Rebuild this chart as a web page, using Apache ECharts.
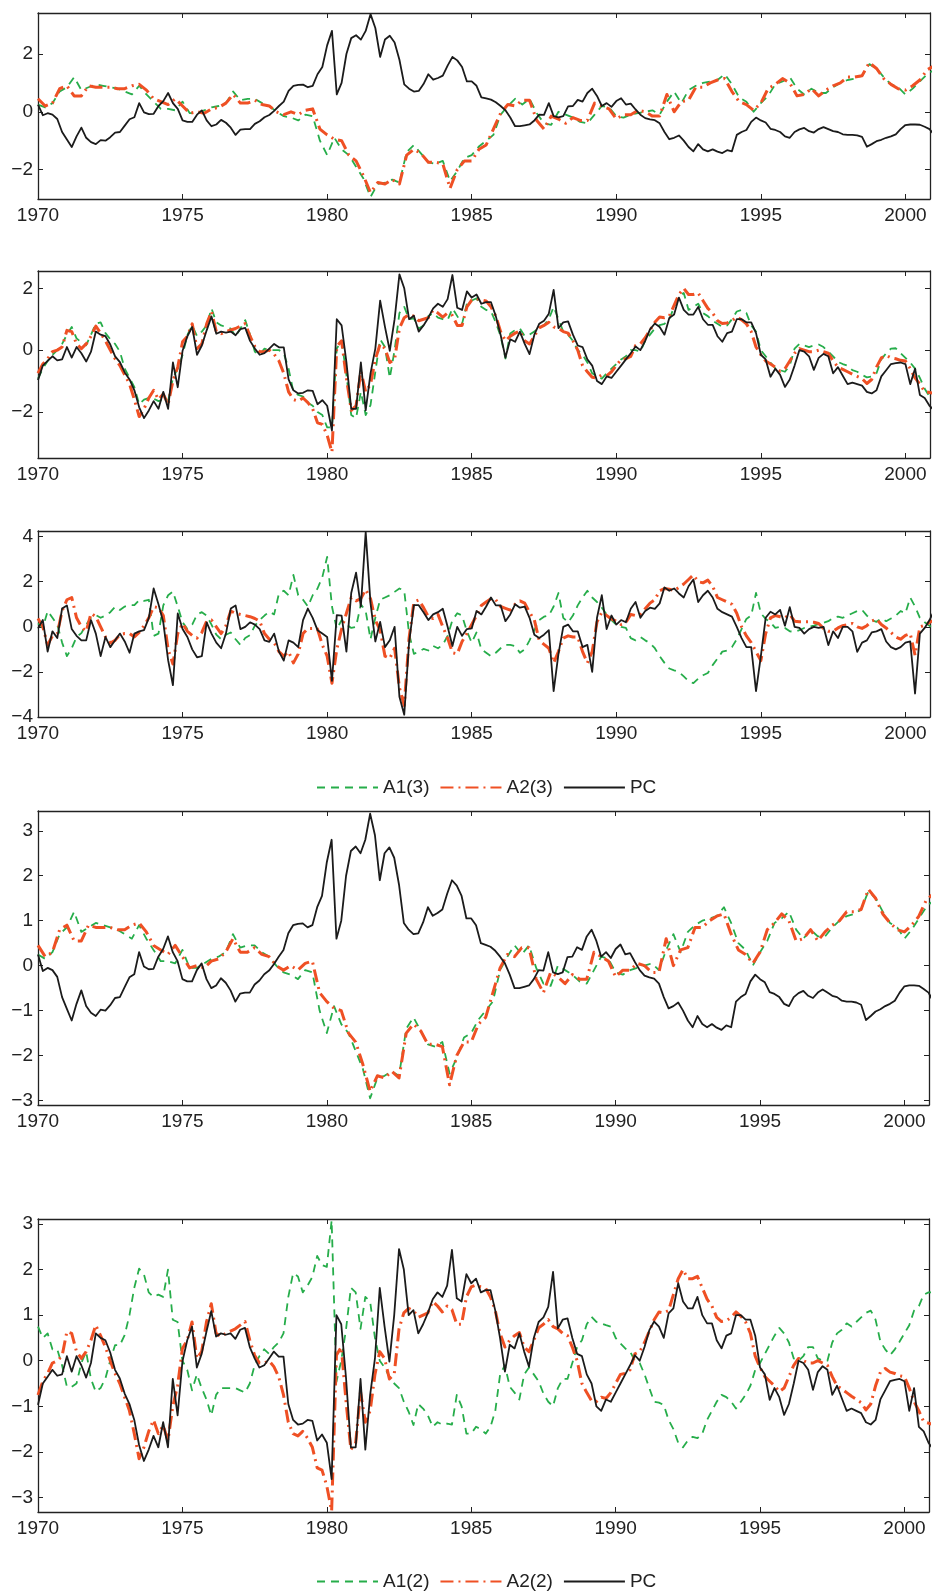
<!DOCTYPE html>
<html><head><meta charset="utf-8">
<script src="https://cdn.jsdelivr.net/npm/echarts@6/dist/echarts.min.js"></script>
<style>html,body{margin:0;padding:0;background:#fff}#c{width:932px;height:1591px}</style>
</head><body><div id="c"></div>
<script>
// ---------- axis ticks ----------
const START_YEAR = 1970;
const STEP_BI = 1/6;   // bimonthly samples
const STEP_Q = 0.25;   // quarterly samples
const xTicks = [1970, 1975, 1980, 1985, 1990, 1995, 2000];
const yTicksP1 = [-2, 0, 2];
const yTicksP2 = [-2, 0, 2];
const yTicksP3 = [-4, -2, 0, 2, 4];
const yTicksP4 = [-3, -2, -1, 0, 1, 2, 3];
const yTicksP5 = [-3, -2, -1, 0, 1, 2, 3];

// ---------- panels 1 & 4 (quarterly A1/A2, bimonthly PC) ----------
const a1Level = [0.25,0.15,0.3,0.7, 0.85,1.2,0.75,0.85, 0.95,0.9,0.85,0.8, 0.7,0.6,0.9,0.6,
 0.35,0.1,0.1,0.05, 0.35,-0.05,-0.05,0.05, 0.15,0.2,0.3,0.7, 0.4,0.45,0.45,0.3,
 0.2,0.0,-0.15,-0.2, -0.3,-0.1,-0.15,-1.0, -1.5,-0.9,-1.3,-1.5, -1.9,-2.3,-2.95,-2.5,
 -2.45,-2.35,-2.45,-1.4, -1.15,-1.45,-1.75,-1.8, -1.7,-2.4,-2.05,-1.6, -1.5,-1.2,-1.0,-0.8,
 -0.1,0.2,0.45,0.25, 0.45,-0.05,-0.4,-0.45, 0.0,-0.1,-0.2,-0.35, -0.4,-0.1,0.2,0.15,
 -0.15,-0.2,-0.1,-0.05, 0.0,0.05,-0.1,0.35, 0.7,0.3,0.75,0.9, 1.0,1.05,1.1,1.3,
 0.95,0.5,0.35,0.0, 0.3,0.55,0.95,1.05, 1.2,0.8,0.6,0.8, 0.65,0.65,0.85,1.0,
 1.1,1.15,1.25,1.65, 1.5,1.2,0.95,0.85, 0.6,0.8,1.05,1.3, 1.45];
const a2Level = [0.45,0.2,0.3,0.8, 0.9,0.55,0.55,0.9, 0.85,0.85,0.85,0.8, 0.8,0.9,0.95,0.75,
 0.45,0.35,0.25,0.45, 0.2,-0.05,0.0,-0.05, 0.1,0.15,0.3,0.6, 0.3,0.3,0.4,0.25,
 0.2,0.0,-0.1,0.0, -0.1,0.05,0.1,-0.6, -0.8,-0.95,-1.0,-1.5, -1.7,-2.2,-2.8,-2.45,
 -2.5,-2.35,-2.5,-1.5, -1.3,-1.45,-1.75,-1.75, -1.8,-2.65,-2.0,-1.7, -1.7,-1.3,-1.15,-0.6,
 -0.05,0.25,0.2,0.4, 0.4,-0.3,-0.6,-0.15, -0.25,-0.4,-0.2,-0.3, -0.3,0.3,0.2,0.1,
 -0.25,-0.1,-0.1,0.05, 0.0,-0.15,-0.15,0.6, 0.0,0.35,0.4,0.85, 0.85,1.0,1.1,1.15,
 0.7,0.35,0.25,0.05, 0.3,0.8,0.95,1.15, 1.0,0.55,0.6,0.8, 0.55,0.75,0.9,1.0,
 1.2,1.2,1.25,1.7, 1.5,1.15,0.95,0.8, 0.75,0.9,1.1,1.45, 1.6];
const pcLevel = [0.25,-0.12,-0.05,-0.1,-0.25,-0.7,-0.96,-1.22,-0.85,-0.55,-0.9,-1.05,
 -1.12,-0.98,-1.0,-0.88,-0.72,-0.7,-0.48,-0.26,-0.19,0.3,-0.02,-0.08,
 -0.07,0.2,0.37,0.65,0.3,0.1,-0.3,-0.35,-0.35,-0.1,0.05,-0.3,
 -0.5,-0.44,-0.28,-0.38,-0.55,-0.8,-0.62,-0.6,-0.6,-0.42,-0.33,-0.19,
 -0.11,0.03,0.2,0.35,0.72,0.9,0.93,0.94,0.85,0.9,1.3,1.55,
 2.3,2.8,0.6,1.0,2.0,2.55,2.65,2.5,2.8,3.38,2.9,1.9,
 2.5,2.63,2.4,1.8,0.95,0.8,0.7,0.72,0.96,1.3,1.11,1.17,
 1.25,1.6,1.9,1.78,1.55,1.05,1.05,0.9,0.5,0.46,0.42,0.33,
 0.2,0.05,-0.2,-0.5,-0.5,-0.47,-0.44,-0.3,-0.1,-0.11,0.3,-0.15,
 -0.19,-0.15,0.19,0.2,0.41,0.35,0.65,0.8,0.55,0.2,0.3,0.17,
 0.37,0.47,0.25,0.28,0.08,-0.1,-0.22,-0.26,-0.29,-0.4,-0.7,-0.95,
 -0.9,-0.82,-1.0,-1.22,-1.37,-1.12,-1.3,-1.37,-1.3,-1.38,-1.43,-1.33,
 -1.37,-0.8,-0.7,-0.63,-0.35,-0.2,-0.3,-0.37,-0.59,-0.63,-0.7,-0.85,
 -0.9,-0.7,-0.61,-0.56,-0.67,-0.72,-0.6,-0.53,-0.6,-0.67,-0.7,-0.78,
 -0.8,-0.8,-0.82,-0.87,-1.21,-1.12,-1.02,-0.97,-0.9,-0.85,-0.78,-0.6,
 -0.46,-0.44,-0.44,-0.45,-0.52,-0.6,-0.8];

// ---------- panels 2 & 5 (bimonthly) ----------
const pcSlope = [-0.97,-0.5,-0.35,-0.2,-0.33,-0.3,0.1,-0.24,0.1,-0.1,-0.37,-0.05,
 0.6,0.5,0.45,0.18,-0.2,-0.39,-0.72,-0.95,-1.3,-1.85,-2.2,-1.95,
 -1.65,-1.9,-1.35,-1.9,-0.4,-1.2,-0.02,0.45,0.75,-0.15,0.15,0.64,
 1.09,0.53,0.6,0.57,0.6,0.48,0.68,0.72,0.3,0.05,-0.15,-0.1,
 0.05,0.2,0.09,0.09,-0.95,-1.3,-1.4,-1.38,-1.3,-1.32,-1.75,-1.62,
 -1.8,-2.6,1.0,0.8,-0.39,-1.9,-1.9,-0.4,-1.95,-0.75,0.05,1.6,
 0.75,-0.02,1.0,2.45,2.0,1.0,1.11,0.6,0.8,1.05,1.35,1.5,
 1.4,1.65,2.43,1.37,1.3,1.9,1.7,1.8,1.5,1.55,1.55,1.1,
 0.49,-0.24,0.35,0.27,0.6,0.2,-0.13,0.5,0.85,0.95,1.18,1.95,
 0.71,0.9,0.93,0.5,0.15,0.1,-0.3,-0.5,-1.0,-1.1,-0.85,-0.9,
 -0.7,-0.5,-0.3,-0.1,0.12,0.0,0.3,0.67,0.86,0.75,0.5,1.04,
 1.15,1.7,1.3,1.15,1.15,1.4,1.0,0.82,0.82,0.45,0.27,0.55,
 0.6,1.0,1.0,0.9,0.9,0.55,-0.15,-0.3,-0.86,-0.6,-0.8,-1.19,
 -0.95,-0.5,0.0,-0.05,-0.2,-0.64,-0.25,-0.12,-0.2,-0.75,-0.55,-0.83,
 -1.1,-1.05,-1.1,-1.15,-1.35,-1.4,-1.3,-0.85,-0.65,-0.45,-0.42,-0.4,
 -0.45,-1.1,-0.6,-1.45,-1.55,-1.8,-1.95];
const a2Slope = [-0.75,-0.45,-0.28,-0.05,0.0,0.1,0.64,0.6,0.2,0.05,0.2,0.45,
 0.78,0.55,0.3,0.0,-0.28,-0.5,-0.8,-1.1,-1.6,-2.15,-1.9,-1.55,
 -1.3,-1.6,-1.42,-1.75,-1.0,-0.55,0.27,0.45,0.85,0.05,0.2,0.85,
 1.25,0.6,0.53,0.6,0.65,0.7,0.78,0.86,0.45,0.12,-0.05,-0.05,
 0.0,-0.13,-0.35,-0.75,-1.35,-1.6,-1.65,-1.55,-1.7,-1.9,-2.35,-2.4,
 -2.75,-3.3,0.12,0.3,-0.9,-1.95,-1.8,-0.68,-1.35,-1.1,-0.3,0.2,
 0.05,-0.4,-0.3,0.7,1.05,1.15,1.1,0.95,1.0,1.05,1.3,1.2,
 1.07,1.2,1.12,0.8,0.8,1.4,1.62,1.66,1.62,1.59,1.4,1.1,
 0.6,0.3,0.45,0.55,0.62,0.3,0.2,0.45,0.72,0.8,0.9,0.75,
 0.7,0.6,0.55,0.3,0.0,-0.5,-0.7,-0.88,-0.9,-0.8,-0.83,-0.7,
 -0.5,-0.3,-0.28,-0.2,0.15,0.2,0.4,0.65,0.9,1.07,1.05,1.1,
 1.45,1.8,2.0,1.8,1.8,1.85,1.6,1.35,1.2,0.95,0.86,0.88,
 0.95,1.07,0.98,0.85,0.6,0.1,-0.15,-0.35,-0.45,-0.55,-0.68,-0.6,
 -0.35,-0.1,0.05,0.0,-0.05,-0.05,0.0,-0.05,-0.1,-0.35,-0.55,-0.62,
 -0.7,-0.78,-0.85,-0.92,-1.08,-0.95,-0.55,-0.25,-0.17,-0.25,-0.28,-0.33,
 -0.35,-0.6,-0.9,-1.1,-1.34,-1.37,-1.4];
const a1SlopeThree = [-0.92,-0.6,-0.35,-0.15,0.0,0.2,0.5,0.75,0.38,0.25,0.16,0.5,
 0.86,0.9,0.55,0.35,0.2,-0.05,-0.6,-0.9,-1.2,-1.75,-1.6,-1.55,
 -1.57,-1.65,-1.6,-1.65,-0.9,-0.6,-0.16,0.49,0.8,0.45,0.6,0.8,
 1.35,0.9,0.8,0.75,0.7,0.45,0.7,0.97,0.5,-0.05,-0.15,0.05,
 0.0,0.0,0.0,-0.1,-0.6,-1.35,-1.45,-1.5,-1.7,-1.8,-2.0,-2.1,
 -2.5,-2.5,0.05,0.3,-0.8,-2.1,-2.2,-1.35,-2.1,-1.78,-0.7,0.35,
 0.1,-0.9,0.0,1.2,1.4,1.0,1.03,0.7,0.8,1.1,1.2,1.05,
 1.0,0.97,1.35,1.1,0.85,1.5,1.6,1.68,1.4,1.3,1.25,0.9,
 0.45,-0.27,0.54,0.65,0.7,0.45,0.5,0.6,0.75,0.8,1.0,1.4,
 1.0,0.6,0.5,0.3,0.0,-0.15,-0.4,-0.75,-0.85,-0.92,-0.75,-0.6,
 -0.45,-0.3,-0.2,0.0,0.0,-0.05,0.3,0.5,0.7,0.81,0.85,1.0,
 1.4,1.75,1.85,1.3,1.4,1.5,1.2,1.1,0.95,0.85,0.75,0.8,
 1.0,1.25,1.3,1.2,0.8,0.6,0.0,-0.2,-0.4,-0.59,-0.65,-0.7,
 -0.5,0.05,0.2,0.15,0.1,0.15,0.18,0.1,-0.05,-0.2,-0.38,-0.45,
 -0.5,-0.65,-0.7,-0.8,-0.88,-0.85,-0.75,-0.3,-0.1,0.05,0.06,-0.1,
 -0.25,-0.4,-0.6,-0.9,-1.25,-1.5,-1.6];
const a1SlopeTwo = [0.75,0.5,0.6,0.25,0.25,-0.1,-0.57,-0.57,-0.5,-0.05,0.2,-0.4,
 -0.68,-0.6,-0.39,0.0,0.34,0.34,0.56,1.0,1.6,2.02,1.9,1.5,
 1.4,1.45,1.4,2.0,0.9,0.85,0.0,-0.2,-0.65,-0.3,-0.6,-0.85,
 -1.2,-0.75,-0.6,-0.6,-0.6,-0.6,-0.65,-0.7,-0.5,-0.1,0.1,0.25,
 0.15,0.3,0.4,0.6,1.4,1.92,1.85,1.5,1.65,1.84,2.3,2.1,
 2.06,3.08,-0.46,0.0,0.7,1.6,1.5,0.7,1.4,1.3,0.5,0.0,
 -0.15,-0.35,-0.5,-0.6,-0.9,-1.12,-1.41,-0.95,-1.05,-1.2,-1.45,-1.35,
 -1.4,-1.38,-1.4,-0.75,-1.0,-1.6,-1.6,-1.45,-1.5,-1.6,-1.45,-1.1,
 -0.3,-0.1,-0.57,-0.7,-0.85,-0.3,-0.15,-0.3,-0.45,-0.72,-0.9,-1.0,
 -0.6,-0.4,-0.4,-0.05,0.3,0.45,0.8,0.96,0.85,0.82,0.78,0.75,
 0.5,0.38,0.27,0.2,0.0,-0.05,-0.3,-0.6,-0.9,-0.92,-0.97,-1.3,
 -1.5,-1.8,-1.9,-1.75,-1.67,-1.7,-1.6,-1.3,-1.1,-0.9,-0.75,-0.8,
 -0.9,-1.05,-0.9,-0.75,-0.55,-0.2,-0.05,0.15,0.35,0.55,0.72,0.6,
 0.4,0.05,0.0,0.1,0.3,0.3,0.05,0.0,0.0,0.4,0.6,0.68,
 0.82,0.75,0.85,0.95,1.05,1.1,0.9,0.42,0.25,0.12,0.25,0.42,
 0.6,0.78,1.1,1.2,1.45,1.5,1.5];

// ---------- panel 3 (bimonthly) ----------
const pcCurv = [-0.07,0.3,-1.1,-0.2,-0.5,0.81,0.95,-0.1,-0.4,-0.6,-0.6,0.3,
 -0.3,-1.3,-0.45,-0.9,-0.6,-0.3,-0.65,-1.15,-0.3,-0.2,-0.15,0.4,
 1.7,1.0,0.2,-1.48,-2.59,0.59,-0.1,-0.45,-1.0,-1.35,-1.3,0.2,
 -0.3,-0.7,-0.95,-0.3,0.81,0.95,-0.1,0.0,0.2,0.1,-0.1,-0.6,
 -0.67,-0.3,-1.1,-1.5,-0.6,-0.7,-0.9,0.3,0.81,0.4,-0.15,-0.3,
 -0.45,-2.4,0.52,0.5,-1.1,1.5,2.4,0.9,4.2,1.05,-0.65,0.22,
 -0.9,-0.6,0.0,-3.1,-3.9,-0.7,0.96,0.96,0.65,0.3,0.55,0.65,
 0.8,0.0,-0.85,0.0,-0.4,-0.1,-0.07,0.7,0.55,0.9,1.3,0.95,
 0.95,0.25,0.55,1.0,0.85,0.9,0.4,-0.35,-0.5,-0.35,-0.15,-2.85,
 -1.2,0.0,0.1,-0.2,-0.2,-0.9,-0.8,-2.0,0.4,1.4,-0.1,0.5,
 0.1,0.3,0.2,0.8,1.1,0.4,0.7,0.85,0.8,1.04,1.75,1.6,
 1.7,1.48,1.3,1.8,2.1,1.1,1.4,1.6,1.3,0.8,0.65,0.55,
 0.45,0.0,-0.5,-0.9,-0.9,-2.85,-1.3,0.4,0.67,0.55,0.75,0.05,
 0.87,0.0,-0.05,-0.3,-0.1,0.0,-0.05,0.0,-0.81,-0.2,-0.5,0.0,
 0.0,-0.2,-1.11,-0.7,-0.6,-0.25,-0.2,-0.1,-0.65,-0.9,-1.0,-0.9,
 -0.7,-0.65,-2.96,-0.3,-0.05,0.3,0.74];
const a2Curv = [0.37,0.0,-0.8,-0.4,-0.3,0.7,1.2,1.3,0.4,0.0,-0.2,0.6,
 0.45,0.0,-0.45,-0.72,-0.6,-0.35,-0.3,-0.3,-0.45,-0.25,0.05,0.4,
 0.89,0.85,0.5,-1.0,-1.65,-0.3,0.15,-0.2,-0.38,-0.5,-0.25,0.25,
 0.3,0.0,-0.3,0.05,0.7,0.6,0.55,0.5,0.45,0.37,0.25,-0.3,
 -0.55,-0.7,-1.1,-1.3,-1.1,-1.6,-1.2,-0.3,-0.07,-0.07,-0.1,-0.8,
 -1.3,-2.5,-1.0,-0.1,0.6,1.3,1.15,1.25,1.65,1.25,0.3,-0.15,
 -1.3,-1.4,-0.95,-2.7,-3.5,-0.5,1.1,1.19,0.85,0.45,0.37,0.55,
 0.0,-0.5,-1.15,-1.2,-0.65,-0.3,0.1,0.5,0.95,1.1,1.25,1.2,
 0.9,0.82,0.74,1.0,1.15,1.05,0.65,0.3,-0.6,-0.78,-0.95,-1.6,
 -1.1,-0.5,-0.4,-0.45,-0.45,-1.1,-1.6,-1.1,0.22,0.65,0.5,0.35,
 0.25,0.1,0.2,0.55,0.5,0.55,0.8,1.05,1.2,1.6,1.7,1.67,
 1.6,1.75,1.9,2.1,2.3,2.0,1.95,2.07,1.8,1.3,1.2,1.1,
 1.0,0.6,0.0,-0.4,-0.7,-1.1,-1.5,-0.3,0.4,0.5,0.45,0.4,
 0.55,0.25,0.22,0.22,0.22,0.2,0.15,-0.07,-0.2,-0.2,-0.05,0.05,
 0.1,0.15,0.0,-0.07,0.05,0.25,0.35,0.1,-0.05,-0.25,-0.45,-0.55,
 -0.38,-0.3,-1.26,0.0,0.07,0.2,0.3];
const a1Curv = [0.15,-0.05,0.7,0.4,0.1,-0.7,-1.3,-0.95,-0.45,-0.28,0.1,0.4,
 0.52,0.4,0.5,0.65,0.89,0.75,0.9,0.97,0.96,1.19,1.15,1.2,
 -0.4,-0.3,0.95,1.4,1.56,0.9,0.2,-0.1,0.1,0.55,0.65,0.5,
 0.1,-0.35,-0.55,-0.35,-0.25,-0.55,-0.8,-0.5,-0.37,0.05,0.3,0.5,
 0.67,0.55,1.48,1.6,1.4,2.3,1.4,1.2,0.9,1.4,1.7,2.2,
 3.1,0.9,-0.1,0.3,0.1,-0.05,0.0,1.0,0.7,-0.55,0.4,1.2,
 1.3,1.4,1.55,1.7,1.6,-0.3,-1.2,-1.1,-0.98,-1.05,-0.85,-0.95,
 -0.8,-0.4,0.3,0.6,0.5,-0.2,-0.7,-0.25,-1.0,-1.15,-1.3,-1.15,
 -0.95,-0.8,-0.8,-0.85,-1.15,-1.0,-0.6,-0.15,0.3,0.45,0.5,0.9,
 1.5,0.4,0.2,0.5,0.95,1.3,1.6,1.3,1.1,0.85,0.55,0.3,
 0.1,0.0,-0.05,-0.5,-0.6,-0.45,-0.6,-0.72,-0.95,-1.3,-1.6,-1.85,
 -1.93,-2.0,-2.2,-2.4,-2.5,-2.3,-2.15,-2.05,-1.7,-1.41,-1.1,-1.05,
 -0.9,-0.55,-0.1,0.35,0.5,1.5,0.6,0.35,0.2,-0.05,0.0,-0.05,
 -0.2,-0.22,-0.15,-0.05,0.0,0.05,0.12,0.18,0.25,0.4,0.45,0.4,
 0.5,0.6,0.7,0.75,0.5,0.3,0.22,0.37,0.25,0.37,0.5,0.7,
 0.6,1.3,0.9,0.4,0.2,0.05,-0.1];

// ---------- styling ----------
const GREEN = '#26ad4a', ORANGE = '#ef5024', BLACK = '#1b1b1b', AXIS = '#222';
const FONT = '"Liberation Sans", Arial, Helvetica, sans-serif';
const FS = 19;
const fmt = v => (v < 0 ? '\u2212' + Math.abs(v) : String(v));

const panels = [
  {top: 13, height: 186, right: 2, ymin: -3.02, ymax: 3.42, yt: yTicksP1,
   s: [['A1(3)', a1Level, STEP_Q, 'g'], ['A2(3)', a2Level, STEP_Q, 'o'], ['PC', pcLevel, STEP_BI, 'k']]},
  {top: 271, height: 187, right: 2, ymin: -3.49, ymax: 2.56, yt: yTicksP2,
   s: [['A1(3)', a1SlopeThree, STEP_BI, 'g'], ['A2(3)', a2Slope, STEP_BI, 'o'], ['PC', pcSlope, STEP_BI, 'k']]},
  {top: 531, height: 186, right: 2, ymin: -4.0, ymax: 4.25, yt: yTicksP3,
   s: [['A1(3)', a1Curv, STEP_BI, 'g'], ['A2(3)', a2Curv, STEP_BI, 'o'], ['PC', pcCurv, STEP_BI, 'k']]},
  {top: 811, height: 294, right: 3, ymin: -3.1, ymax: 3.44, yt: yTicksP4,
   s: [['A1(2)', a1Level, STEP_Q, 'g'], ['A2(2)', a2Level, STEP_Q, 'o'], ['PC', pcLevel, STEP_BI, 'k']]},
  {top: 1219, height: 293, right: 3, ymin: -3.32, ymax: 3.11, yt: yTicksP5,
   s: [['A1(2)', a1SlopeTwo, STEP_BI, 'g'], ['A2(2)', a2Slope, STEP_BI, 'o'], ['PC', pcSlope, STEP_BI, 'k']]}
];

const styleOf = {
  g: {color: GREEN, width: 1.8, type: [8, 6]},
  o: {color: ORANGE, width: 3, type: [13, 5, 2, 5]},
  k: {color: BLACK, width: 1.8, type: 'solid'}
};

const grid = [], xAxis = [], yAxis = [], series = [];
panels.forEach((p, i) => {
  grid.push({left: 38, right: p.right, top: p.top, height: p.height, containLabel: false});
  const axLine = {show: true, onZero: false, lineStyle: {color: AXIS, width: 1.3}};
  const tick = vals => ({show: true, inside: true, length: 5, customValues: vals, lineStyle: {color: AXIS, width: 1}});
  xAxis.push({type: 'value', gridIndex: i, position: 'bottom', min: 1970, max: 2000.85,
    axisLine: axLine, axisTick: tick(xTicks), splitLine: {show: false},
    axisLabel: {show: true, customValues: xTicks, margin: 7, fontSize: FS, fontFamily: FONT, color: AXIS, formatter: v => String(v)}});
  xAxis.push({type: 'value', gridIndex: i, position: 'top', min: 1970, max: 2000.85,
    axisLine: axLine, axisTick: tick(xTicks), splitLine: {show: false}, axisLabel: {show: false}});
  yAxis.push({type: 'value', gridIndex: i, position: 'left', min: p.ymin, max: p.ymax,
    axisLine: axLine, axisTick: tick(p.yt), splitLine: {show: false},
    axisLabel: {show: true, customValues: p.yt, margin: 5, fontSize: FS, fontFamily: FONT, color: AXIS, formatter: fmt}});
  yAxis.push({type: 'value', gridIndex: i, position: 'right', min: p.ymin, max: p.ymax,
    axisLine: axLine, axisTick: tick(p.yt), splitLine: {show: false}, axisLabel: {show: false}});
  p.s.forEach(([name, arr, step, key]) => {
    const st = styleOf[key];
    series.push({
      name, type: 'line', xAxisIndex: 2 * i, yAxisIndex: 2 * i,
      data: arr.map((v, k) => [START_YEAR + k * step, v]),
      symbol: 'none', showSymbol: false, clip: true, silent: true,
      z: key === 'k' ? 4 : (key === 'o' ? 3 : 2),
      lineStyle: {color: st.color, width: st.width, type: st.type, cap: 'butt', join: 'round'},
      itemStyle: {color: st.color}
    });
  });
});

const legendBase = {orient: 'horizontal', itemWidth: 61, itemHeight: 14, itemGap: 10, selectedMode: false,
  itemStyle: {opacity: 0, borderWidth: 0},
  textStyle: {fontSize: FS, fontFamily: FONT, color: AXIS}};
const option = {
  animation: false,
  backgroundColor: '#fff',
  grid, xAxis, yAxis, series,
  legend: [
    Object.assign({data: ['A1(3)', 'A2(3)', 'PC'], left: 311, top: 773}, legendBase),
    Object.assign({data: ['A1(2)', 'A2(2)', 'PC'], left: 311, top: 1567}, legendBase)
  ]
};
const chart = echarts.init(document.getElementById('c'), null, {renderer: 'canvas'});
chart.setOption(option);
</script>
</body></html>
